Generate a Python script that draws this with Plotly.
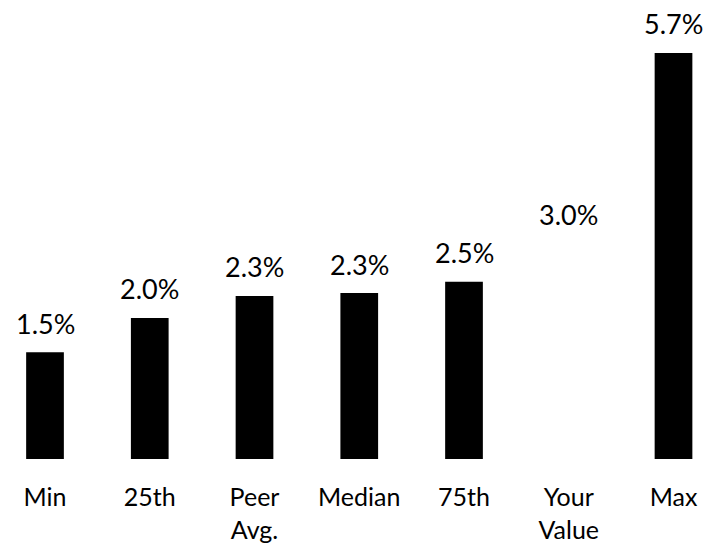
import plotly.graph_objects as go

categories = ["Min", "25th", "Peer<br>Avg.", "Median", "75th", "Your<br>Value", "Max"]
values = [1.50, 1.98, 2.29, 2.33, 2.49, 3.02, 5.70]
# the "Your Value" bar is left unfilled; only its label is shown
bar_colors = ["#000000", "#000000", "#000000", "#000000", "#000000",
              "rgba(0,0,0,0)", "#000000"]

FONT = "Lato"
W, H = 707, 545
BOTTOM = 86
PX_PER_CAT = 104.75
FIRST_CENTER = 45
PX_PER_UNIT = 71.23

plot_h = H - BOTTOM
x_lo = -FIRST_CENTER / PX_PER_CAT
x_hi = (W - FIRST_CENTER) / PX_PER_CAT

fig = go.Figure(
    go.Bar(
        x=list(range(len(categories))),
        y=values,
        width=0.36,
        marker=dict(color=bar_colors, line=dict(width=0)),
        hoverinfo="skip",
    )
)

for i, v in enumerate(values):
    fig.add_annotation(
        x=i, y=v, text=f"{v:.1f}%", showarrow=False,
        yanchor="middle", yshift=29,
        font=dict(family=FONT, size=27, color="#000000"),
    )

fig.update_layout(
    width=W, height=H,
    margin=dict(l=0, r=0, t=0, b=BOTTOM),
    paper_bgcolor="white", plot_bgcolor="white",
    showlegend=False,
    xaxis=dict(
        range=[x_lo, x_hi],
        tickmode="array",
        tickvals=list(range(len(categories))),
        ticktext=categories,
        showgrid=False, zeroline=False, showline=False, ticks="",
        ticklabelstandoff=21,
        tickfont=dict(family=FONT, size=25, color="#000000"),
    ),
    yaxis=dict(
        range=[0, plot_h / PX_PER_UNIT],
        visible=False, showgrid=False, zeroline=False,
    ),
)

fig.write_html("out.html")
